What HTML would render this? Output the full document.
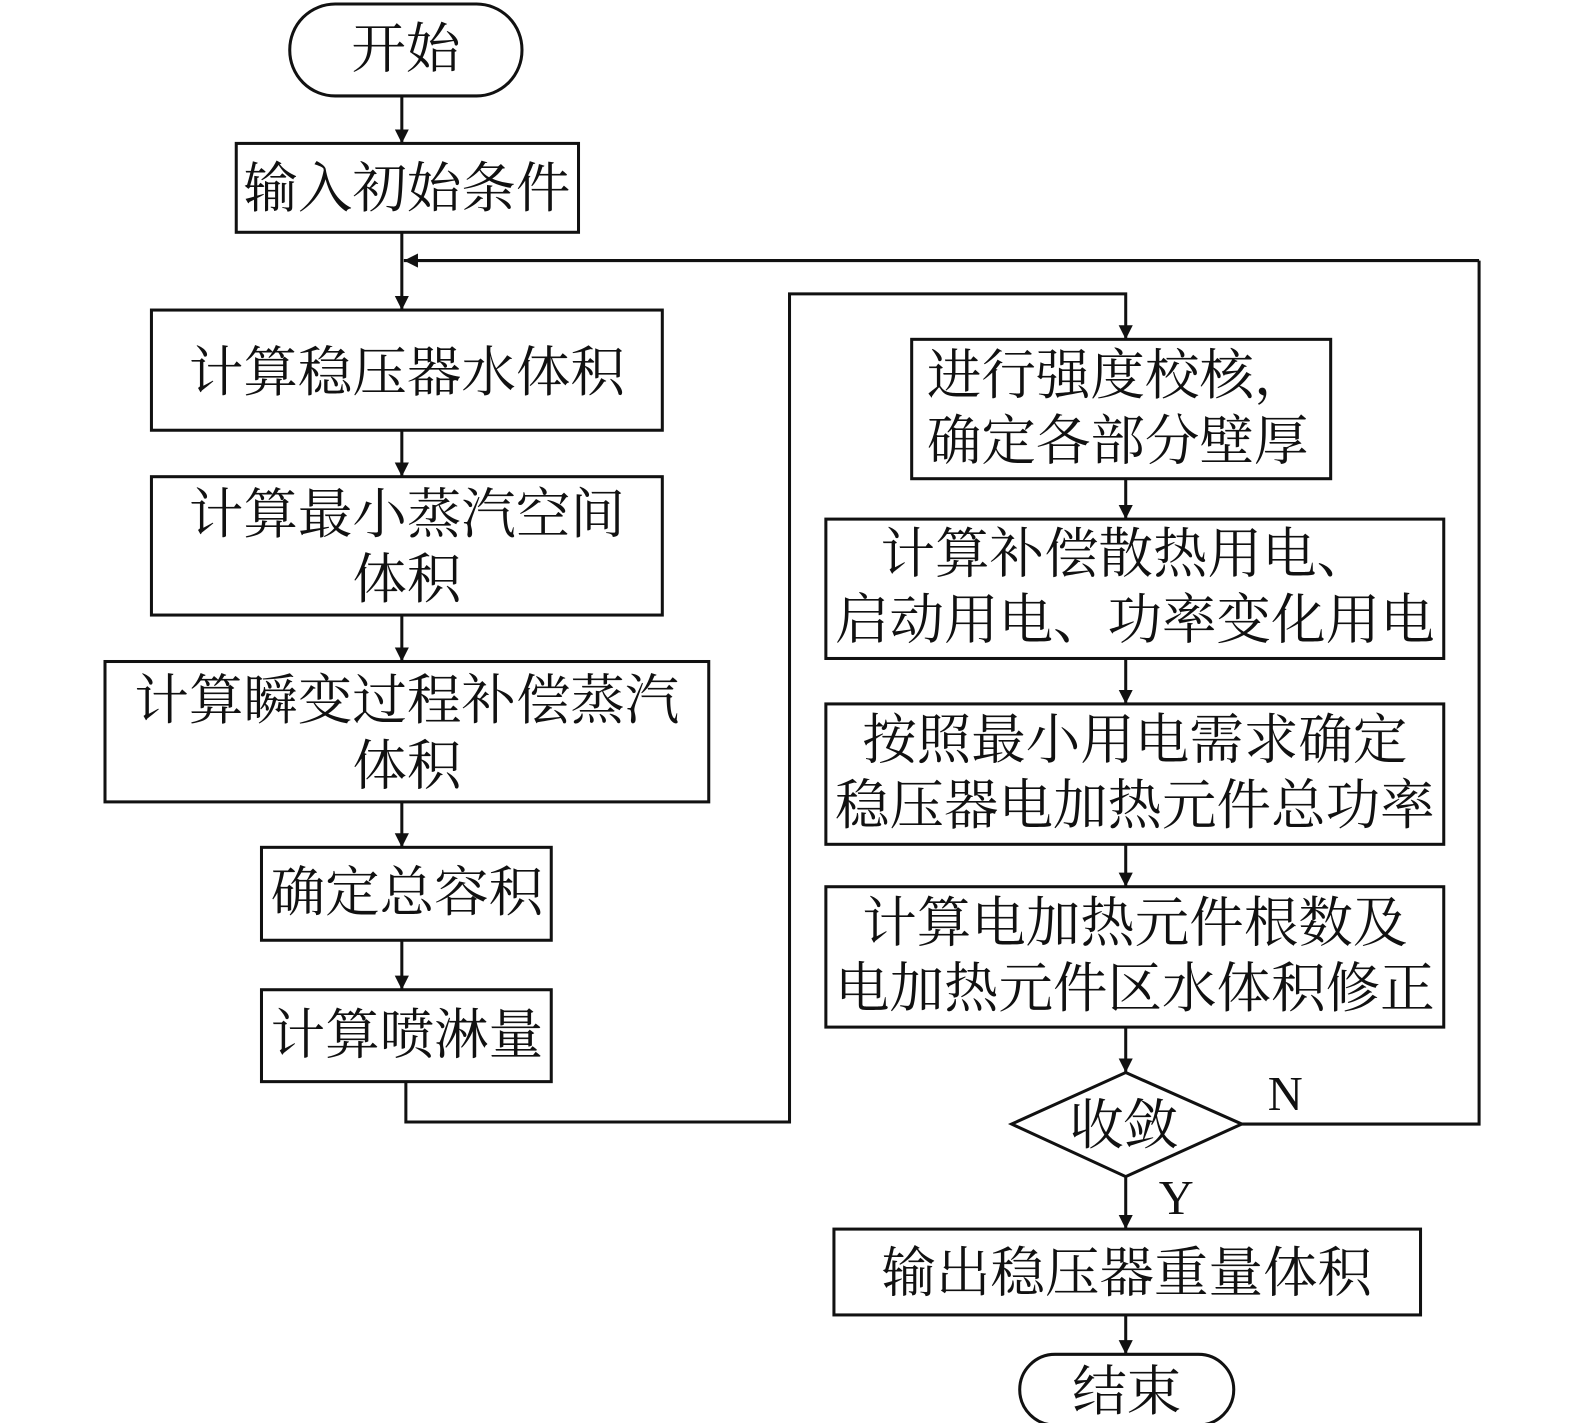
<!DOCTYPE html>
<html><head><meta charset="utf-8"><style>
html,body{margin:0;padding:0;background:#fff;}
svg{display:block;}
text{font-family:"Liberation Serif","Noto Serif CJK SC",serif;font-size:54px;fill:#111;}
</style></head><body>
<svg width="1575" height="1423" viewBox="0 0 1560 1409" preserveAspectRatio="none" xmlns="http://www.w3.org/2000/svg">
<defs><marker id="a" markerWidth="10" markerHeight="10" refX="9" refY="5" orient="auto" markerUnits="userSpaceOnUse"><path d="M0,0 L10,5 L0,10 Z" fill="#111"/></marker>
<marker id="b" viewBox="0 0 10 10" markerWidth="14" markerHeight="28" refX="10" refY="5" orient="auto" markerUnits="userSpaceOnUse"><path d="M0,0 L10,5 L0,10 Z" fill="#111"/></marker></defs>
<g fill="none" stroke="#111" stroke-width="3">
<rect x="287" y="4" width="230" height="91" rx="45"/>
<rect x="234" y="142" width="339" height="88"/>
<rect x="150" y="307" width="506" height="119"/>
<rect x="150" y="472" width="506" height="137"/>
<rect x="104" y="655" width="598" height="139"/>
<rect x="259" y="839" width="287" height="92"/>
<rect x="259" y="980" width="287" height="91"/>
<rect x="903" y="336" width="415" height="138"/>
<rect x="818" y="514" width="612" height="138"/>
<rect x="818" y="697" width="612" height="139"/>
<rect x="818" y="878" width="612" height="139"/>
<polygon points="1115,1062 1230,1113 1115,1165 1002,1113"/>
<rect x="826" y="1217" width="581" height="85"/>
<rect x="1010" y="1341" width="212" height="70" rx="35"/>
<g marker-end="url(#b)">
<line x1="398" y1="95" x2="398" y2="142"/>
<line x1="398" y1="230" x2="398" y2="307"/>
<line x1="1465" y1="258" x2="400" y2="258"/>
<line x1="398" y1="426" x2="398" y2="472"/>
<line x1="398" y1="609" x2="398" y2="655"/>
<line x1="398" y1="794" x2="398" y2="839"/>
<line x1="398" y1="931" x2="398" y2="980"/>
<polyline points="402,1071 402,1111 782,1111 782,291 1115,291 1115,336"/>
<line x1="1115" y1="474" x2="1115" y2="514"/>
<line x1="1115" y1="652" x2="1115" y2="697"/>
<line x1="1115" y1="836" x2="1115" y2="878"/>
<line x1="1115" y1="1017" x2="1115" y2="1062"/>
<line x1="1115" y1="1165" x2="1115" y2="1217"/>
<line x1="1115" y1="1302" x2="1115" y2="1341"/>
</g>
<polyline points="1230,1113 1465,1113 1465,258"/>
</g>
<g text-anchor="middle">
<text x="402" y="67">开始</text>
<text x="403" y="205">输入初始条件</text>
<text x="403" y="387">计算稳压器水体积</text>
<text x="403" y="528">计算最小蒸汽空间</text>
<text x="403" y="592">体积</text>
<text x="403" y="712">计算瞬变过程补偿蒸汽</text>
<text x="403" y="777">体积</text>
<text x="403" y="902">确定总容积</text>
<text x="403" y="1043">计算喷淋量</text>
<text x="1115" y="567">计算补偿散热用电、</text>
<text x="1124" y="632">启动用电、功率变化用电</text>
<text x="1124" y="751">按照最小用电需求确定</text>
<text x="1124" y="816">稳压器电加热元件总功率</text>
<text x="1124" y="932">计算电加热元件根数及</text>
<text x="1124" y="997">电加热元件区水体积修正</text>
<text x="1113" y="1133">收敛</text>
<text x="1116" y="1279">输出稳压器重量体积</text>
<text x="1116" y="1396">结束</text>
<text x="1273" y="1099" style="font-size:48px">N</text>
<text x="1165" y="1202" style="font-size:48px">Y</text>
</g>
<text x="918" y="390">进行强度校核，</text>
<text x="918" y="455">确定各部分壁厚</text>
</svg>
</body></html>
